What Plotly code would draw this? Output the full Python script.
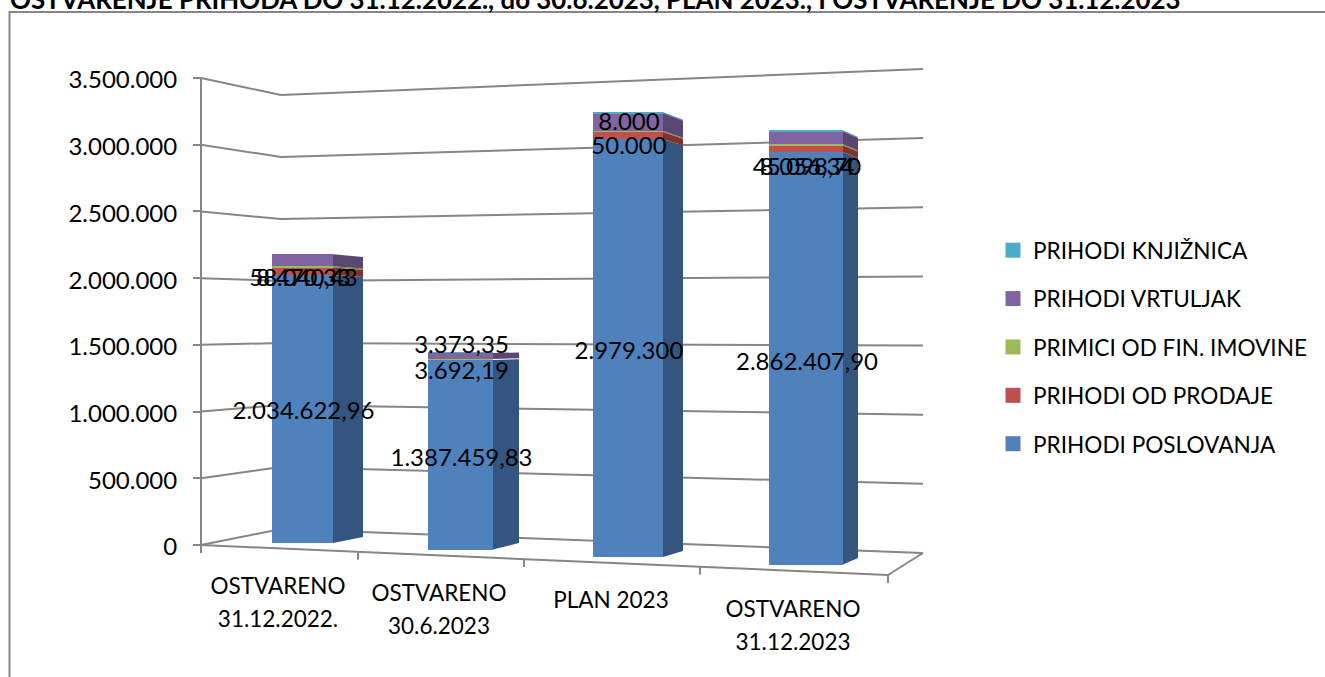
import plotly.graph_objects as go

# ---------- data ----------
categories = ["OSTVARENO<br>31.12.2022.", "OSTVARENO<br>30.6.2023", "PLAN 2023", "OSTVARENO<br>31.12.2023"]
prihodi_poslovanja = [2034622.96, 1387459.83, 2979300, 2862407.90]
prihodi_od_prodaje = [58040.43, 3692.19, 50000, 45098.70]
primici_fin_imovine = [8470.33, 3373.35, 8000, 8056.34]
prihodi_vrtuljak = [91000, 44000, 125000, 90000]
prihodi_knjiznica = [0, 4000, 7000, 7000]
y_ticks = [0, 500000, 1000000, 1500000, 2000000, 2500000, 3000000, 3500000]

labels_poslovanja = ["2.034.622,96", "1.387.459,83", "2.979.300", "2.862.407,90"]
labels_prodaje = ["58.040,43", "3.692,19", "50.000", "45.098,70"]
labels_fin = ["8.470,33", "3.373,35", "8.000", "8.056,34"]

series = [
    ("PRIHODI POSLOVANJA", prihodi_poslovanja, "#4F81BD", "#33557F"),
    ("PRIHODI OD PRODAJE", prihodi_od_prodaje, "#C0504D", "#83312F"),
    ("PRIMICI OD FIN. IMOVINE", primici_fin_imovine, "#9BBB59", "#6E8A38"),
    ("PRIHODI VRTULJAK", prihodi_vrtuljak, "#8064A2", "#5A4670"),
    ("PRIHODI KNJIŽNICA", prihodi_knjiznica, "#4BACC6", "#2F7F96"),
]

# ---------- layout constants (perspective of the 3-D look, in page pixels) ----------
W, H = 1325, 677
AXIS_X, AXIS_Y0, AXIS_K = 201, 545, 133.43      # front-left corner, px per million
BACK_L = (281, 529, 124.0)                      # x, y of zero, px per million
BACK_R = (923, 553, 138.3)
FRONT_R = (888, 575)
BAR_XL = [272, 428, 593, 769]
BAR_XR = [333, 493, 663, 843]
BAR_XS = [363, 519, 683, 858]
BAR_BASE = [543, 549.5, 557, 564.5]
BAR_BASE_S = [537, 543, 551, 558]
BAR_K = [131.7, 136.6, 140.3, 144.1]
SIDE_RATIO = 0.97
FLOOR_TICKS_X = [201, 358, 524, 700, 888]
CAT_X = [278, 439, 611, 793]
CAT_Y = [588, 595, 602, 611]
CAT_LINE = 33
LBL_Y_BLUE = [413, 460, 353, 364]
LBL_Y_RED = [280, 373, 148, 169]
LBL_Y_GREEN = [280, 347, 124, 169]
GRID = "#868686"
FONT = "Lato"
TXT_AXIS = 24
TXT_CAT = 22.5
TXT_LABEL = 24
TXT_LEGEND = 22.6


def v(py):
    """page pixel row -> value on the y axis"""
    return (AXIS_Y0 - py) / AXIS_K * 1e6


fig = go.Figure()

# stacked bars: front faces and side faces
cum = [0.0] * 4
centers = [(a + b) / 2 for a, b in zip(BAR_XL, BAR_XR)]
widths = [b - a for a, b in zip(BAR_XL, BAR_XR)]
for name, vals, col, dark in series:
    bases_px = [BAR_BASE[i] - BAR_K[i] * cum[i] / 1e6 for i in range(4)]
    tops_px = [BAR_BASE[i] - BAR_K[i] * (cum[i] + vals[i]) / 1e6 for i in range(4)]
    fig.add_trace(go.Bar(
        x=centers, width=widths,
        base=[v(p) for p in bases_px],
        y=[v(t) - v(b) for t, b in zip(tops_px, bases_px)],
        marker=dict(color=col, line=dict(width=0)),
        name=name, legendgroup=name, showlegend=False,
    ))
    for i in range(4):
        ks = BAR_K[i] * SIDE_RATIO
        b_s = BAR_BASE_S[i] - ks * cum[i] / 1e6
        t_s = BAR_BASE_S[i] - ks * (cum[i] + vals[i]) / 1e6
        fig.add_trace(go.Scatter(
            x=[BAR_XR[i], BAR_XS[i], BAR_XS[i], BAR_XR[i], BAR_XR[i]],
            y=[v(bases_px[i]), v(b_s), v(t_s), v(tops_px[i]), v(bases_px[i])],
            mode="lines", fill="toself", fillcolor=dark, line=dict(width=0),
            legendgroup=name, showlegend=False, hoverinfo="skip",
        ))
    cum = [c + x for c, x in zip(cum, vals)]

# legend entries, top to bottom
for name, vals, col, dark in reversed(series):
    fig.add_trace(go.Scatter(
        x=[None], y=[None], mode="markers", name=name, legendgroup=name,
        marker=dict(symbol="square", size=15, color=col),
    ))

# data labels
for texts, ys in ((labels_poslovanja, LBL_Y_BLUE), (labels_prodaje, LBL_Y_RED), (labels_fin, LBL_Y_GREEN)):
    fig.add_trace(go.Scatter(
        x=[c + 1 for c in centers], y=[v(p) for p in ys], text=texts, mode="text",
        textposition="middle center", textfont=dict(family=FONT, size=TXT_LABEL, color="#000000"),
        showlegend=False, hoverinfo="skip",
    ))

# category labels, one text per line
cx, cy, ct = [], [], []
for c, x0, y0 in zip(categories, CAT_X, CAT_Y):
    for j, line in enumerate(c.split("<br>")):
        cx.append(x0)
        cy.append(v(y0 + j * CAT_LINE))
        ct.append(line)
fig.add_trace(go.Scatter(
    x=cx, y=cy, text=ct, mode="text", textposition="middle center",
    textfont=dict(family=FONT, size=TXT_CAT, color="#000000"),
    showlegend=False, hoverinfo="skip",
))

# walls and floor, drawn behind the bars
shapes = []


def seg(x0, y0, x1, y1):
    shapes.append(dict(type="line", xref="x", yref="y", layer="below",
                       x0=x0, y0=v(y0), x1=x1, y1=v(y1),
                       line=dict(color=GRID, width=2)))


for t in y_ticks:
    m = t / 1e6
    yf = AXIS_Y0 - AXIS_K * m
    yl = BACK_L[1] - BACK_L[2] * m
    yr = BACK_R[1] - BACK_R[2] * m
    seg(AXIS_X, yf, BACK_L[0], yl)
    seg(BACK_L[0], yl, BACK_R[0], yr)
seg(AXIS_X, AXIS_Y0 - AXIS_K * 3.5, AXIS_X, AXIS_Y0)
seg(AXIS_X, AXIS_Y0, FRONT_R[0], FRONT_R[1])
seg(FRONT_R[0], FRONT_R[1], BACK_R[0], BACK_R[1])
slope = (FRONT_R[1] - AXIS_Y0) / (FRONT_R[0] - AXIS_X)
for tx in FLOOR_TICKS_X:
    ty = AXIS_Y0 + slope * (tx - AXIS_X)
    seg(tx, ty, tx, ty + 8)
# outer frame of the chart
shapes.append(dict(type="rect", xref="paper", yref="paper", layer="below",
                   x0=9.5 / W, x1=1 + 20 / W, y0=-20 / H, y1=1 - 12 / H,
                   line=dict(color=GRID, width=2)))

fig.update_layout(
    width=W, height=H, margin=dict(l=0, r=0, t=0, b=0),
    barmode="overlay", bargap=0, showlegend=True,
    paper_bgcolor="#FFFFFF", plot_bgcolor="#FFFFFF",
    separators=",.", shapes=shapes,
    font=dict(family=FONT, size=TXT_AXIS, color="#000000"),
    title=dict(text="<b>OSTVARENJE PRIHODA DO 31.12.2022., do 30.6.2023, PLAN 2023., I OSTVARENJE DO 31.12.2023</b>",
               font=dict(family=FONT, size=25.9, color="#000000"),
               xref="paper", yref="container", x=10 / W, xanchor="left", y=1.0, yanchor="middle"),
    xaxis=dict(range=[0, W], domain=[0, 1], visible=False, fixedrange=True),
    yaxis=dict(range=[v(H), v(0)], domain=[0, 1], anchor="free", position=AXIS_X / W,
               tickmode="array", tickvals=y_ticks, tickformat=",d",
               ticks="outside", ticklen=8, tickwidth=2, tickcolor=GRID,
               ticklabelstandoff=11, ticklabelshift=2, showgrid=False, zeroline=False, showline=False,
               tickfont=dict(family=FONT, size=TXT_AXIS, color="#000000"), fixedrange=True),
    legend=dict(x=999 / W, y=1 - 229 / H, xanchor="left", yanchor="top",
                traceorder="grouped", tracegroupgap=16, itemclick=False, indentation=-6,
                font=dict(family=FONT, size=TXT_LEGEND, color="#000000"),
                bgcolor="rgba(0,0,0,0)"),
)

fig.write_html("out.html", config={"displayModeBar": False},
               post_script="document.body.style.margin='0';document.body.style.overflow='hidden';")
